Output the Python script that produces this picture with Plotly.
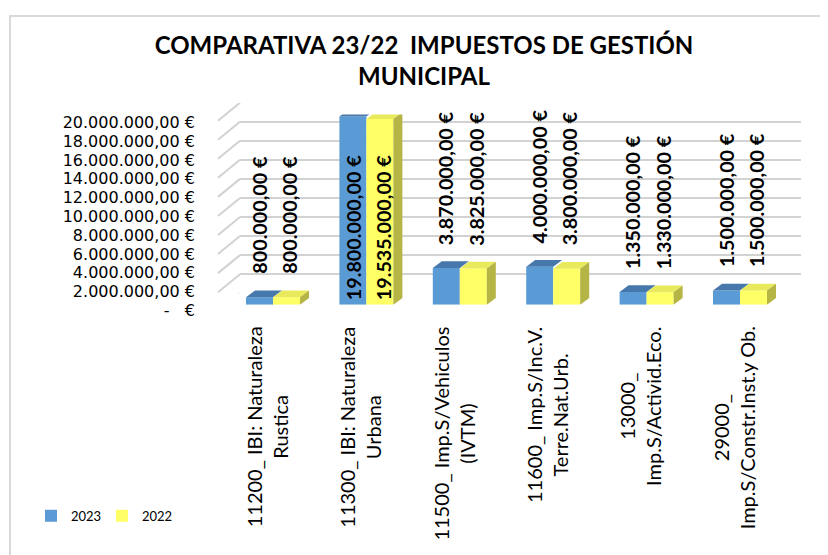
import plotly.graph_objects as go

# ---------------- data ----------------
categories = [
    "11200_ IBI: Naturaleza<br>Rustica",
    "11300_ IBI: Naturaleza<br>Urbana",
    "11500_ Imp.S/Vehiculos<br>(IVTM)",
    "11600_ Imp.S/Inc.V.<br>Terre.Nat.Urb.",
    "13000_<br>Imp.S/Activid.Eco.",
    "29000_<br>Imp.S/Constr.Inst.y Ob.",
]
series_names = ["2023", "2022"]
values_2023 = [800000, 19800000, 3870000, 4000000, 1350000, 1500000]
values_2022 = [800000, 19535000, 3825000, 3800000, 1330000, 1500000]
y_tick_values = [0, 2e6, 4e6, 6e6, 8e6, 10e6, 12e6, 14e6, 16e6, 18e6, 20e6]
y_tick_labels = ["-\u00a0\u00a0\u00a0€", "2.000.000,00 €", "4.000.000,00 €", "6.000.000,00 €",
                 "8.000.000,00 €", "10.000.000,00 €", "12.000.000,00 €", "14.000.000,00 €",
                 "16.000.000,00 €", "18.000.000,00 €", "20.000.000,00 €"]
title_text = "COMPARATIVA 23/22  IMPUESTOS DE GESTIÓN<br>MUNICIPAL"

# ---------------- layout constants (page pixels) ----------------
W, H = 828, 555
OFF = 8            # default body margin of the html page
FONT = "Lato"


def fx(px):
    return (px - OFF) / W


def fy(px):
    return 1 - (px - OFF) / H


YMAX = 20e6
N = len(categories)
bar_px_left, bar_px_right = 226.3, 786.7      # bar subplot
bar_px_bottom, bar_px_top = 306.0, 109.0
wall_px_left, wall_px_right = 240.0, 801.0    # back wall
wall_px_bottom, wall_px_top = 294.0, 96.7
lab_px_bottom, lab_px_top = 311.7, 117.3      # tick label axis
px_per_cat = (bar_px_right - bar_px_left) / N
px_per_val = (bar_px_bottom - bar_px_top) / YMAX

bar_w = 27 / px_per_cat
depth_dx = 9 / px_per_cat
depth_dy = 7 / px_per_val

BLUE, BLUE_TOP = "#5b9bd5", "#4678ab"
YEL, YEL_TOP, YEL_SIDE = "#ffff66", "#e9e95c", "#b5b545"
GRID = "#d2d2d2"


def fmt(v):
    s = f"{v:,.2f}"
    s = s.replace(",", "X").replace(".", ",").replace("X", ".")
    return s + " €"


fig = go.Figure()

# empty helper trace so that the tick-label axis (y3) gets its own subplot
fig.add_trace(go.Scatter(x=[], y=[], xaxis="x", yaxis="y3", showlegend=False,
                         hoverinfo="skip", mode="markers"))

xs = list(range(N))
series = [(series_names[0], values_2023, BLUE, BLUE_TOP, -bar_w),
          (series_names[1], values_2022, YEL, YEL_TOP, 0.0)]

for name, vals, col, _, off in series:
    fig.add_trace(go.Bar(
        x=xs, y=vals, name=name, width=[bar_w] * N, offset=[off] * N,
        marker=dict(color=col, line=dict(width=0)),
        xaxis="x2", yaxis="y2", hoverinfo="skip",
    ))

# 3D faces derived from the values
for si, (name, vals, col, topcol, off) in enumerate(series):
    for i, v in enumerate(vals):
        L = i + off
        R = L + bar_w
        fig.add_trace(go.Scatter(
            x=[L, R, R + depth_dx, L + depth_dx, L],
            y=[v, v, v + depth_dy, v + depth_dy, v],
            fill="toself", fillcolor=topcol, mode="lines", line=dict(width=0),
            xaxis="x2", yaxis="y2", showlegend=False, hoverinfo="skip", cliponaxis=False,
        ))
        if si == len(series) - 1:
            fig.add_trace(go.Scatter(
                x=[R, R + depth_dx, R + depth_dx, R, R],
                y=[0, depth_dy, v + depth_dy, v, 0],
                fill="toself", fillcolor=YEL_SIDE, mode="lines", line=dict(width=0),
                xaxis="x2", yaxis="y2", showlegend=False, hoverinfo="skip", cliponaxis=False,
            ))

annotations = []
# data labels
for si, (name, vals, col, topcol, off) in enumerate(series):
    for i, v in enumerate(vals):
        inside = v > 0.75 * YMAX
        annotations.append(dict(
            x=i + off + bar_w / 2, y=0 if inside else v, xref="x2", yref="y2",
            text=fmt(v), textangle=-90, showarrow=False,
            xanchor="center", yanchor="bottom",
            yshift=3 if inside else 21, xshift=0 if si == 0 else 3,
            font=dict(family=FONT, size=19.75, color="black", weight="bold"),
        ))
# category labels
for i, c in enumerate(categories):
    annotations.append(dict(
        x=i, y=0, xref="x2", yref="y2", text=c, textangle=-90, showarrow=False,
        xanchor="center", yanchor="top", yshift=-20, xshift=-6, align="center",
        font=dict(family=FONT, size=20, color="black"),
    ))

shapes = [dict(type="rect", xref="paper", yref="paper", x0=fx(10), x1=1.05,
               y0=-0.05, y1=fy(7), line=dict(color="#d9d9d9", width=2), layer="below")]
for t in y_tick_values:
    shapes.append(dict(type="line", xref="paper", yref="y", ysizemode="pixel", yanchor=t,
                       x0=fx(wall_px_left), x1=fx(218), y0=0, y1=-18,
                       line=dict(color=GRID, width=2), layer="below"))

fig.update_layout(
    width=W, height=H, margin=dict(l=0, r=0, t=0, b=0),
    paper_bgcolor="white", plot_bgcolor="rgba(0,0,0,0)",
    font=dict(family=FONT, color="black"),
    title=dict(text=title_text, x=fx(424), xanchor="center", yref="container",
               y=fy(54), yanchor="top",
               font=dict(family=FONT, size=24, color="black", weight="bold")),
    barmode="overlay",
    showlegend=True,
    legend=dict(orientation="h", x=fx(31), y=fy(509), xanchor="left", yanchor="top",
                font=dict(family=FONT, size=13), entrywidth=26, bgcolor="rgba(0,0,0,0)"),
    # back wall
    xaxis=dict(domain=[fx(wall_px_left), fx(wall_px_right)], range=[0, 1], anchor="y",
               showgrid=False, zeroline=False, showticklabels=False, showline=False, ticks=""),
    yaxis=dict(domain=[fy(wall_px_bottom), fy(wall_px_top)], range=[0, YMAX], anchor="x",
               tickvals=y_tick_values, showgrid=True, gridcolor=GRID, gridwidth=2,
               zeroline=False, showticklabels=False, ticks=""),
    # bars
    xaxis2=dict(domain=[fx(bar_px_left), fx(bar_px_right)], range=[-0.5, N - 0.5], anchor="y2",
                showgrid=False, zeroline=False, showticklabels=False, showline=False, ticks=""),
    yaxis2=dict(domain=[fy(bar_px_bottom), fy(bar_px_top)], range=[0, YMAX], anchor="x2",
                showgrid=False, zeroline=False, showticklabels=False, ticks=""),
    # tick labels (positioned left of the back wall)
    yaxis3=dict(domain=[fy(lab_px_bottom), fy(lab_px_top)], range=[0, YMAX], anchor="x",
                tickvals=y_tick_values, ticktext=y_tick_labels, ticklabelstandoff=int(wall_px_left - 196),
                showgrid=False, zeroline=False, showline=False, ticks="",
                tickfont=dict(family="DejaVu Sans", size=16, color="black")),
    annotations=annotations,
    shapes=shapes,
)

fig.write_html("out.html")
